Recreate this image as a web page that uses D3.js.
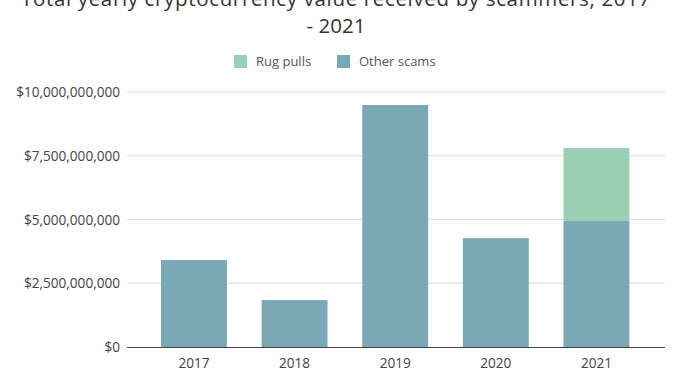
<!DOCTYPE html>
<html><head><meta charset="utf-8">
<script src="https://cdn.jsdelivr.net/npm/d3@7"></script>
<style>body{margin:0;background:#fff;}svg{display:block;font-family:"Open Sans","Noto Sans",sans-serif;}</style>
</head><body><svg id="c" width="686" height="388"></svg>
<script>
const years = ["2017","2018","2019","2020","2021"];
const otherScams = [3.41e9, 1.84e9, 9.49e9, 4.27e9, 4.94e9];
const rugPulls = [0, 0, 0, 0, 2.86e9];
const yTicks = [0, 2.5e9, 5e9, 7.5e9, 10e9];
const seriesNames = ["Rug pulls", "Other scams"];
const colors = {"Rug pulls": "#99cfb3", "Other scams": "#79a9b4"};

const svg = d3.select("#c");
const x = d3.scaleBand().domain(years).range([143.7, 646.7]).paddingInner(0.345).paddingOuter(0.172);
const y = d3.scaleLinear().domain([0, 10e9]).range([347, 92]);

// title
const title = svg.append("text").attr("text-anchor","middle").attr("fill","#333").attr("font-size",20.5);
title.append("tspan").attr("x",336).attr("y",6).attr("letter-spacing",0.65).text("Total yearly cryptocurrency value received by scammers, 2017");
title.append("tspan").attr("x",336).attr("y",33).text("- 2021");

// legend
const leg = [{n:"Rug pulls", x:234}, {n:"Other scams", x:337}];
leg.forEach(l=>{
  svg.append("rect").attr("x",l.x).attr("y",55).attr("width",13).attr("height",13).attr("fill",colors[l.n]);
  svg.append("text").attr("x",l.x+22).attr("y",66).attr("font-size",13).attr("fill","#555").text(l.n);
});

// grid
const fmt = v => "$" + d3.format(",")(v);
svg.append("g").selectAll("line").data(yTicks.filter(d=>d>0)).join("line")
  .attr("x1",127).attr("x2",665).attr("y1",d=>y(d)).attr("y2",d=>y(d))
  .attr("stroke","#dcdcdc").attr("stroke-width",1);
svg.append("g").selectAll("text").data(yTicks).join("text")
  .attr("x",120).attr("y",d=>y(d)+5).attr("text-anchor","end").attr("font-size",13.6).attr("fill","#444")
  .text(fmt);

// bars
const stackData = years.map((yr,i)=>({year:yr, "Other scams":otherScams[i], "Rug pulls":rugPulls[i]}));
const stack = d3.stack().keys(["Other scams","Rug pulls"])(stackData);
svg.append("g").selectAll("g").data(stack).join("g").attr("fill",d=>colors[d.key])
  .selectAll("rect").data(d=>d).join("rect")
  .attr("x",d=>x(d.data.year)).attr("width",x.bandwidth())
  .attr("y",d=>y(d[1])).attr("height",d=>y(d[0])-y(d[1]));

// x axis
svg.append("line").attr("x1",127).attr("x2",665).attr("y1",347.5).attr("y2",347.5).attr("stroke","#444").attr("stroke-width",1.2);
svg.append("g").selectAll("text").data(years).join("text")
  .attr("x",d=>x(d)+x.bandwidth()/2).attr("y",368).attr("text-anchor","middle").attr("font-size",13.6).attr("fill","#444").text(d=>d);
</script></body></html>
